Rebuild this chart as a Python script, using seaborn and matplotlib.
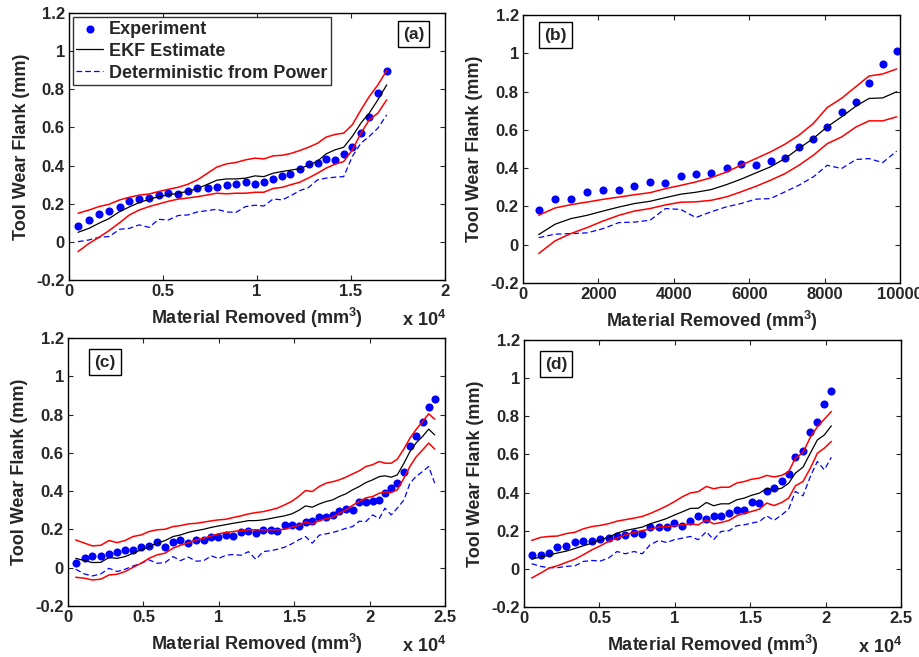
import matplotlib
matplotlib.use("Agg")
import matplotlib.pyplot as plt
from matplotlib.ticker import FixedLocator, FuncFormatter
import seaborn as sns
import pandas as pd

# ---------------- data (a) ----------------
x_a = [480, 1065, 1600, 2130, 2700, 3210, 3730, 4260, 4770, 5290, 5800, 6320,
       6830, 7370, 7860, 8380, 8870, 9390, 9890, 10360, 10860, 11340, 11780,
       12280, 12740, 13220, 13670, 14140, 14610, 15070, 15530, 15970, 16430, 16900]
exp_a = [0.085, 0.112, 0.148, 0.164, 0.185, 0.213, 0.226, 0.231, 0.247, 0.256,
         0.250, 0.269, 0.282, 0.282, 0.289, 0.298, 0.305, 0.313, 0.305, 0.316,
         0.330, 0.344, 0.354, 0.382, 0.407, 0.414, 0.432, 0.430, 0.461, 0.497,
         0.573, 0.654, 0.778, 0.894]
ekf_a = [0.050, 0.071, 0.098, 0.122, 0.159, 0.183, 0.206, 0.223, 0.237, 0.246,
         0.255, 0.265, 0.279, 0.302, 0.323, 0.330, 0.330, 0.334, 0.346, 0.342,
         0.360, 0.369, 0.376, 0.384, 0.402, 0.423, 0.461, 0.482, 0.496, 0.553,
         0.623, 0.675, 0.745, 0.823]
upper_a = [0.150, 0.167, 0.185, 0.197, 0.220, 0.234, 0.245, 0.251, 0.264, 0.276,
           0.286, 0.302, 0.325, 0.360, 0.392, 0.409, 0.416, 0.430, 0.439, 0.435,
           0.451, 0.454, 0.463, 0.479, 0.496, 0.517, 0.549, 0.563, 0.570, 0.614,
           0.692, 0.762, 0.823, 0.899]
lower_a = [-0.051, -0.008, 0.024, 0.059, 0.101, 0.141, 0.167, 0.185, 0.199, 0.213,
           0.224, 0.230, 0.237, 0.246, 0.255, 0.252, 0.255, 0.255, 0.260, 0.260,
           0.280, 0.286, 0.299, 0.313, 0.335, 0.360, 0.386, 0.407, 0.421, 0.482,
           0.570, 0.640, 0.675, 0.745]
det_a = [0.001, 0.010, 0.024, 0.028, 0.066, 0.071, 0.089, 0.076, 0.118, 0.115,
         0.138, 0.141, 0.157, 0.164, 0.171, 0.157, 0.154, 0.185, 0.192, 0.188,
         0.225, 0.220, 0.241, 0.269, 0.285, 0.325, 0.334, 0.339, 0.342, 0.448,
         0.518, 0.553, 0.596, 0.666]

# ---------------- data (b) ----------------
x_b = [416, 850, 1265, 1708, 2124, 2549, 2956, 3372, 3779, 4186, 4584, 4991,
       5398, 5779, 6177, 6566, 6947, 7319, 7699, 8071, 8451, 8832, 9177, 9540, 9912]
exp_b = [0.180, 0.238, 0.238, 0.276, 0.287, 0.287, 0.309, 0.330, 0.321, 0.358,
         0.368, 0.375, 0.403, 0.421, 0.414, 0.435, 0.454, 0.511, 0.550, 0.616,
         0.694, 0.747, 0.846, 0.942, 1.011]
ekf_b = [0.053, 0.107, 0.136, 0.154, 0.176, 0.197, 0.215, 0.227, 0.246, 0.264,
         0.274, 0.288, 0.314, 0.342, 0.375, 0.407, 0.450, 0.503, 0.555, 0.616,
         0.668, 0.724, 0.764, 0.767, 0.799]
upper_b = [0.154, 0.192, 0.209, 0.223, 0.237, 0.249, 0.261, 0.272, 0.293, 0.310,
           0.328, 0.350, 0.380, 0.415, 0.450, 0.485, 0.525, 0.572, 0.633, 0.717,
           0.765, 0.826, 0.881, 0.892, 0.918]
lower_b = [-0.046, 0.020, 0.058, 0.090, 0.124, 0.154, 0.176, 0.189, 0.208, 0.222,
           0.224, 0.232, 0.250, 0.276, 0.305, 0.337, 0.371, 0.415, 0.467, 0.528,
           0.563, 0.615, 0.647, 0.647, 0.668]
det_b = [0.037, 0.055, 0.058, 0.062, 0.084, 0.116, 0.118, 0.128, 0.189, 0.184,
         0.142, 0.172, 0.198, 0.215, 0.238, 0.241, 0.276, 0.311, 0.354, 0.415,
         0.398, 0.445, 0.450, 0.429, 0.489]

# ---------------- data (c) ----------------
x_c = [509, 1106, 1615, 2168, 2721, 3252, 3783, 4314, 4845, 5376, 5907, 6438,
       6969, 7456, 7987, 8518, 9004, 9513, 9978, 10465, 10951, 11482, 11969,
       12456, 12942, 13429, 13872, 14358, 14823, 15288, 15752, 16195, 16659,
       17124, 17544, 17987, 18429, 18872, 19314, 19757, 20199, 20642, 21018,
       21438, 21836, 22279, 22677, 23075, 23518, 23916, 24314]
exp_c = [0.027, 0.051, 0.062, 0.062, 0.070, 0.081, 0.093, 0.093, 0.107, 0.114,
         0.136, 0.107, 0.136, 0.143, 0.127, 0.145, 0.145, 0.159, 0.163, 0.173,
         0.166, 0.184, 0.191, 0.180, 0.198, 0.198, 0.191, 0.221, 0.222, 0.219,
         0.240, 0.243, 0.264, 0.266, 0.273, 0.294, 0.309, 0.299, 0.344, 0.344,
         0.351, 0.354, 0.389, 0.414, 0.445, 0.501, 0.637, 0.687, 0.759, 0.839, 0.879]
ekf_c = [0.049, 0.037, 0.027, 0.028, 0.053, 0.049, 0.058, 0.076, 0.093, 0.110,
         0.128, 0.142, 0.163, 0.171, 0.185, 0.194, 0.201, 0.211, 0.218, 0.225,
         0.232, 0.239, 0.246, 0.246, 0.250, 0.257, 0.264, 0.271, 0.281, 0.299,
         0.323, 0.316, 0.333, 0.346, 0.354, 0.372, 0.386, 0.407, 0.424, 0.445,
         0.459, 0.476, 0.480, 0.473, 0.485, 0.546, 0.607, 0.651, 0.686, 0.724, 0.694]
upper_c = [0.145, 0.128, 0.114, 0.117, 0.142, 0.131, 0.142, 0.163, 0.171, 0.189,
           0.198, 0.201, 0.215, 0.220, 0.229, 0.232, 0.238, 0.245, 0.250, 0.253,
           0.262, 0.271, 0.281, 0.288, 0.293, 0.302, 0.311, 0.328, 0.346, 0.372,
           0.403, 0.398, 0.424, 0.442, 0.449, 0.459, 0.473, 0.490, 0.506, 0.529,
           0.538, 0.555, 0.546, 0.546, 0.567, 0.621, 0.677, 0.721, 0.764, 0.804, 0.776]
lower_c = [-0.050, -0.055, -0.064, -0.060, -0.038, -0.034, -0.020, 0.002, 0.023, 0.049,
           0.067, 0.076, 0.102, 0.117, 0.131, 0.145, 0.154, 0.166, 0.177, 0.184,
           0.189, 0.194, 0.198, 0.198, 0.198, 0.198, 0.198, 0.201, 0.211, 0.222,
           0.239, 0.229, 0.246, 0.257, 0.264, 0.285, 0.302, 0.326, 0.346, 0.365,
           0.372, 0.389, 0.396, 0.393, 0.407, 0.468, 0.529, 0.578, 0.616, 0.651, 0.620]
det_c = [-0.008, -0.033, -0.043, -0.033, -0.003, -0.020, -0.008, 0.009, 0.023, 0.041,
         0.023, 0.027, 0.058, 0.037, 0.055, 0.034, 0.037, 0.062, 0.048, 0.065,
         0.069, 0.065, 0.084, 0.044, 0.084, 0.089, 0.096, 0.107, 0.124, 0.145,
         0.163, 0.128, 0.170, 0.177, 0.184, 0.194, 0.206, 0.215, 0.243, 0.241,
         0.276, 0.257, 0.311, 0.276, 0.311, 0.354, 0.442, 0.476, 0.503, 0.529, 0.442]

# ---------------- data (d) ----------------
x_d = [508, 1105, 1658, 2210, 2807, 3382, 3935, 4509, 5062, 5615, 6167, 6720,
       7295, 7847, 8355, 8930, 9461, 9969, 10500, 11030, 11561, 12091, 12577,
       13064, 13594, 14103, 14611, 15097, 15606, 16092, 16578, 17087, 17551,
       17993, 18501, 18988, 19452, 19916, 20380]
exp_d = [0.071, 0.072, 0.082, 0.112, 0.119, 0.141, 0.147, 0.145, 0.157, 0.163,
         0.171, 0.178, 0.187, 0.185, 0.217, 0.217, 0.222, 0.242, 0.226, 0.250,
         0.278, 0.261, 0.278, 0.278, 0.294, 0.310, 0.310, 0.353, 0.345, 0.406,
         0.423, 0.462, 0.500, 0.589, 0.620, 0.716, 0.772, 0.863, 0.931]
ekf_d = [0.051, 0.062, 0.072, 0.083, 0.093, 0.107, 0.121, 0.135, 0.153, 0.166,
         0.187, 0.201, 0.210, 0.219, 0.236, 0.250, 0.264, 0.282, 0.299, 0.317,
         0.318, 0.348, 0.331, 0.341, 0.341, 0.362, 0.371, 0.386, 0.397, 0.421,
         0.414, 0.423, 0.449, 0.502, 0.533, 0.607, 0.676, 0.702, 0.750]
upper_d = [0.149, 0.165, 0.170, 0.172, 0.185, 0.192, 0.210, 0.222, 0.228, 0.237,
           0.250, 0.258, 0.266, 0.275, 0.290, 0.310, 0.330, 0.352, 0.378, 0.398,
           0.405, 0.432, 0.420, 0.428, 0.428, 0.450, 0.458, 0.470, 0.476, 0.490,
           0.482, 0.490, 0.510, 0.580, 0.610, 0.690, 0.745, 0.785, 0.825]
lower_d = [-0.048, -0.022, 0.004, 0.016, 0.034, 0.051, 0.074, 0.100, 0.121, 0.144,
           0.161, 0.179, 0.191, 0.201, 0.208, 0.219, 0.222, 0.226, 0.231, 0.236,
           0.231, 0.257, 0.236, 0.243, 0.254, 0.278, 0.292, 0.301, 0.313, 0.345,
           0.332, 0.348, 0.371, 0.435, 0.458, 0.528, 0.606, 0.633, 0.668]
det_d = [0.027, 0.013, 0.006, 0.006, 0.013, 0.016, 0.039, 0.044, 0.041, 0.057,
         0.091, 0.079, 0.091, 0.079, 0.126, 0.149, 0.138, 0.153, 0.161, 0.170,
         0.153, 0.195, 0.153, 0.196, 0.200, 0.226, 0.231, 0.240, 0.248, 0.278,
         0.254, 0.283, 0.313, 0.406, 0.383, 0.484, 0.563, 0.519, 0.585]

# axis settings
y_ticks = [-0.2, 0, 0.2, 0.4, 0.6, 0.8, 1.0, 1.2]
y_tick_labels = ["-0.2", "0", "0.2", "0.4", "0.6", "0.8", "1", "1.2"]
xticks_1e4_ab = [0, 5000, 10000, 15000, 20000]
xticks_b = [0, 2000, 4000, 6000, 8000, 10000]
xticks_1e4_cd = [0, 5000, 10000, 15000, 20000, 25000]

sns.set_style("ticks")
plt.rcParams["font.family"] = ["Liberation Sans", "DejaVu Sans"]
plt.rcParams["font.weight"] = "bold"
plt.rcParams["mathtext.fontset"] = "custom"
plt.rcParams["mathtext.rm"] = "Liberation Sans:bold"
plt.rcParams["mathtext.bf"] = "Liberation Sans:bold"
plt.rcParams["axes.linewidth"] = 1.0

TICK_FS = 12
LABEL_FS = 13
BLUE = "#0000ff"
RED = "#ff0000"

fig = plt.figure(figsize=(9.19, 6.57), dpi=100)
positions = {
    "a": [69 / 919, 1 - 280 / 657, 376 / 919, 267 / 657],
    "b": [523 / 919, 1 - 283 / 657, 377 / 919, 268 / 657],
    "c": [68 / 919, 1 - 606 / 657, 377 / 919, 268 / 657],
    "d": [524 / 919, 1 - 607 / 657, 377 / 919, 267 / 657],
}

panels = {
    "a": (x_a, exp_a, ekf_a, upper_a, lower_a, det_a, (0, 20000), xticks_1e4_ab, True, (0.916, 0.921)),
    "b": (x_b, exp_b, ekf_b, upper_b, lower_b, det_b, (0, 10000), xticks_b, False, (0.085, 0.925)),
    "c": (x_c, exp_c, ekf_c, upper_c, lower_c, det_c, (0, 25000), xticks_1e4_cd, True, (0.098, 0.910)),
    "d": (x_d, exp_d, ekf_d, upper_d, lower_d, det_d, (0, 25000), xticks_1e4_cd, True, (0.085, 0.910)),
}

for key, (xs, ex, ekf, up, lo, det, xlim, xt, scaled, tag_pos) in panels.items():
    ax = fig.add_axes(positions[key])
    df = pd.DataFrame({"x": xs, "exp": ex, "ekf": ekf, "up": up, "lo": lo, "det": det})

    sns.scatterplot(data=df, x="x", y="exp", ax=ax, color=BLUE, s=34,
                    linewidth=0, zorder=2, label="Experiment")
    sns.lineplot(data=df, x="x", y="ekf", ax=ax, color="black", lw=0.9,
                 estimator=None, sort=False, zorder=3, label="EKF Estimate")
    sns.lineplot(data=df, x="x", y="det", ax=ax, color=BLUE, lw=0.9,
                 linestyle=(0, (4.5, 2.5)), estimator=None, sort=False,
                 zorder=3, label="Deterministic from Power")
    sns.lineplot(data=df, x="x", y="up", ax=ax, color=RED, lw=1.1,
                 estimator=None, sort=False, zorder=3)
    sns.lineplot(data=df, x="x", y="lo", ax=ax, color=RED, lw=1.1,
                 estimator=None, sort=False, zorder=3)

    ax.set_xlim(*xlim)
    ax.set_ylim(-0.2, 1.2)
    ax.yaxis.set_major_locator(FixedLocator(y_ticks))
    ax.set_yticklabels(y_tick_labels)
    ax.xaxis.set_major_locator(FixedLocator(xt))
    if scaled:
        ax.xaxis.set_major_formatter(FuncFormatter(lambda v, p: "%g" % (v / 1e4)))
        ax.text(0.885, -0.15, r"x 10$^{4}$", transform=ax.transAxes,
                ha="left", va="center", fontsize=LABEL_FS, fontweight="bold")
    else:
        ax.xaxis.set_major_formatter(FuncFormatter(lambda v, p: "%d" % v))

    ax.tick_params(direction="in", length=3.5, width=0.8, top=True, right=True,
                   labelsize=TICK_FS, pad=3)
    for lab in ax.get_xticklabels() + ax.get_yticklabels():
        lab.set_fontweight("bold")
    for sp in ax.spines.values():
        sp.set_visible(True)
        sp.set_color("black")
        sp.set_linewidth(1.0)

    ax.set_xlabel(r"Material Removed (mm$^{3}$)", fontsize=LABEL_FS, fontweight="bold")
    ax.set_ylabel("Tool Wear Flank (mm)", fontsize=LABEL_FS, fontweight="bold")
    ax.xaxis.label.set_verticalalignment("center")
    ax.yaxis.label.set_verticalalignment("center")
    ax.xaxis.set_label_coords(0.5, -0.142)
    ax.yaxis.set_label_coords(-48 / 376, 0.5)

    ax.text(tag_pos[0], tag_pos[1], "(%s)" % key, transform=ax.transAxes,
            ha="center", va="center", fontsize=12.5, fontweight="bold",
            bbox=dict(boxstyle="square,pad=0.3", fc="white", ec="black", lw=1.0),
            zorder=5)

    if key == "a":
        leg = ax.legend(loc="upper left", bbox_to_anchor=(0.01, 0.985),
                        fontsize=LABEL_FS, frameon=True, fancybox=False,
                        borderpad=0.2, labelspacing=0.28, handlelength=1.5,
                        handletextpad=0.3, borderaxespad=0.0)
        leg.get_frame().set_edgecolor("black")
        leg.get_frame().set_linewidth(1.0)
        for t in leg.get_texts():
            t.set_fontweight("bold")
    else:
        lg = ax.get_legend()
        if lg is not None:
            lg.remove()

fig.savefig("out.png", dpi=100)
